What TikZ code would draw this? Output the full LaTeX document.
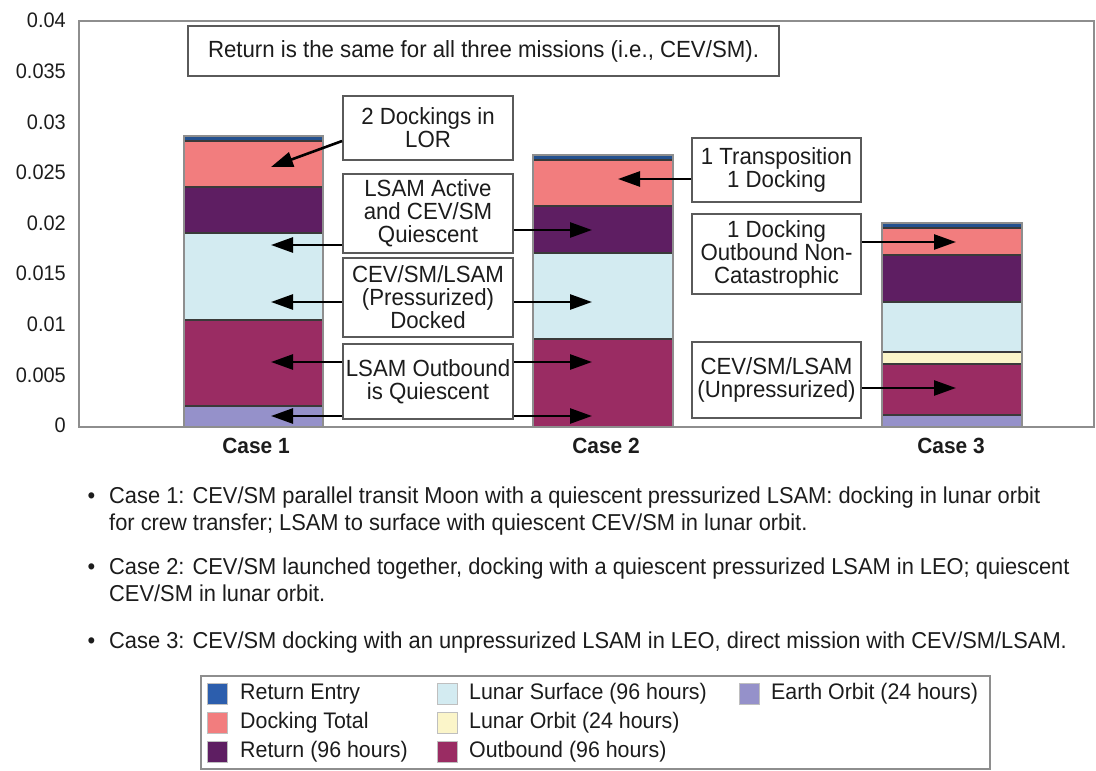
\documentclass[tikz,border=0pt]{standalone}
\usepackage{fontspec}
\setmainfont{Liberation Sans}[FakeStretch=0.95]
\usetikzlibrary{arrows.meta,calc}

% palette of the stacked segments
\definecolor{cEntry}{HTML}{24518F}
\definecolor{cEntryKey}{HTML}{2C5EAD}
\definecolor{cDock}{HTML}{F27D7E}
\definecolor{cReturn}{HTML}{5E1E62}
\definecolor{cSurface}{HTML}{D3EBF1}
\definecolor{cLOrbit}{HTML}{FBF5C9}
\definecolor{cOutbound}{HTML}{9A2C63}
\definecolor{cEOrbit}{HTML}{9591CA}
\definecolor{frameGray}{HTML}{8E8E8E}
\definecolor{boxGray}{HTML}{5A5A5A}
\definecolor{segLine}{HTML}{3A3A3A}
\definecolor{ink}{HTML}{1C1C1C}

\newcommand\boxfont{\fontsize{23.4}{23}\selectfont}
\newcommand\bodyfont{\fontsize{23}{27}\selectfont}
\newcommand\tickfont{\fontsize{21}{21}\selectfont}
\newcommand\keyfont{\fontsize{22.5}{22}\selectfont}
\newcommand\casefont{\fontsize{22}{22}\selectfont\bfseries}

% one stacked segment: x-left, x-right, y-bottom, y-top, colour
\newcommand\stackseg[5]{\filldraw[fill=#5,draw=segLine,line width=1.2pt] (#1,#3) rectangle (#2,#4);}

\tikzset{
  note/.style={draw=boxGray,line width=1.8pt,fill=white,inner sep=0pt,
    align=center,font=\boxfont,text=ink},
  ptr/.style={draw=black,line width=2.6pt,-{Triangle[length=22pt,width=15pt]}},
  tick/.style={anchor=east,inner sep=0pt,font=\tickfont,text=ink},
  casename/.style={inner sep=0pt,font=\casefont,text=ink},
  bullet/.style={anchor=base west,inner sep=0pt,align=left,font=\bodyfont,text=ink},
  swatch/.style={draw=black!25,line width=0.6pt,minimum width=20pt,minimum height=21pt,inner sep=0pt},
  keytext/.style={anchor=west,inner sep=0pt,font=\keyfont,text=ink},
}

\begin{document}
\begin{tikzpicture}[x=1pt,y=-1pt]
\useasboundingbox (0,0) rectangle (1096,771);

% plot frame
\draw[frameGray,line width=2pt] (79,20.5) rectangle (1094,427);

% value axis labels
\foreach \lab [count=\i from 0] in {0.04,0.035,0.03,0.025,0.02,0.015,0.01,0.005,0}
  \node[tick] (tk\i) at (66,{20.7+50.6*\i}) {\lab};

% Case 1 stack
\stackseg{184}{323}{427}{406}{cEOrbit}
\stackseg{184}{323}{406}{320}{cOutbound}
\stackseg{184}{323}{320}{233}{cSurface}
\stackseg{184}{323}{233}{187}{cReturn}
\stackseg{184}{323}{187}{141}{cDock}
\stackseg{184}{323}{141}{136}{cEntry}
\draw[frameGray,line width=1.4pt] (184,427) rectangle (323,136);

% Case 2 stack
\stackseg{533}{673}{427}{339}{cOutbound}
\stackseg{533}{673}{339}{253}{cSurface}
\stackseg{533}{673}{253}{206}{cReturn}
\stackseg{533}{673}{206}{160}{cDock}
\stackseg{533}{673}{160}{155}{cEntry}
\draw[frameGray,line width=1.4pt] (533,427) rectangle (673,155);

% Case 3 stack
\stackseg{882}{1022}{427}{415}{cEOrbit}
\stackseg{882}{1022}{415}{364}{cOutbound}
\stackseg{882}{1022}{364}{352}{cLOrbit}
\stackseg{882}{1022}{352}{302}{cSurface}
\stackseg{882}{1022}{302}{255}{cReturn}
\stackseg{882}{1022}{255}{228}{cDock}
\stackseg{882}{1022}{228}{223}{cEntry}
\draw[frameGray,line width=1.4pt] (882,427) rectangle (1022,223);

% category names
\node[casename] (case1) at (256,446) {Case 1};
\node[casename] (case2) at (606,446) {Case 2};
\node[casename] (case3) at (951,446) {Case 3};

% call-out boxes
\node[note,minimum width=591pt,minimum height=50pt] (same) at (483.5,51)
  {Return is the same for all three missions (i.e., CEV/SM).};
\node[note,minimum width=170pt,minimum height=64pt] (dock2) at (428,128)
  {2 Dockings in\\LOR};
\node[note,minimum width=170pt,minimum height=79pt] (active) at (428,213.5)
  {LSAM Active\\and CEV/SM\\Quiescent};
\node[note,minimum width=170pt,minimum height=79pt] (press) at (428,297.5)
  {CEV/SM/LSAM\\(Pressurized)\\Docked};
\node[note,minimum width=170pt,minimum height=75pt] (outb) at (428,381.5)
  {LSAM Outbound\\is Quiescent};
\node[note,minimum width=169pt,minimum height=64pt] (transp) at (776.5,170)
  {1 Transposition\\1 Docking};
\node[note,minimum width=169pt,minimum height=80pt] (noncat) at (776.5,254)
  {1 Docking\\Outbound Non-\\Catastrophic};
\node[note,minimum width=169pt,minimum height=76pt] (unpress) at (776.5,380)
  {CEV/SM/LSAM\\(Unpressurized)};

% arrow tips inside the stacks
\coordinate (p1dock) at (271,167);
\coordinate (p1surf) at (271,245);
\coordinate (p1press) at (271,302);
\coordinate (p1out) at (271,362);
\coordinate (p1earth) at (271,416);
\coordinate (p2ret) at (592,230);
\coordinate (p2press) at (592,302);
\coordinate (p2out) at (592,362);
\coordinate (p2low) at (592,416);
\coordinate (p2dock) at (618,179);
\coordinate (p3dock) at (956,242);
\coordinate (p3out) at (956,388);

% pointers
\draw[ptr] ([yshift=-13pt]dock2.west) -- (p1dock);
\draw[ptr] (active.west |- p1surf) -- (p1surf);
\draw[ptr] (active.east |- p2ret) -- (p2ret);
\draw[ptr] (press.west |- p1press) -- (p1press);
\draw[ptr] (press.east |- p2press) -- (p2press);
\draw[ptr] (outb.west |- p1out) -- (p1out);
\draw[ptr] (outb.east |- p2out) -- (p2out);
\draw[ptr] (outb.west |- p1earth) -- (p1earth);
\draw[ptr] (outb.east |- p2low) -- (p2low);
\draw[ptr] (transp.west |- p2dock) -- (p2dock);
\draw[ptr] (noncat.east |- p3dock) -- (p3dock);
\draw[ptr] (unpress.east |- p3out) -- (p3out);

% case descriptions (each node sits on the baseline of its last line)
\node[bullet] (d1) at (109,530.5)
  {\llap{\textbullet\hspace{14pt}}Case 1: CEV/SM parallel transit Moon with a quiescent pressurized LSAM: docking in lunar orbit\\
   for crew transfer; LSAM to surface with quiescent CEV/SM in lunar orbit.};
\node[bullet] (d2) at (109,601.5)
  {\llap{\textbullet\hspace{14pt}}Case 2: CEV/SM launched together, docking with a quiescent pressurized LSAM in LEO; quiescent\\
   CEV/SM in lunar orbit.};
\node[bullet] (d3) at (109,648.5)
  {\llap{\textbullet\hspace{14pt}}Case 3: CEV/SM docking with an unpressurized LSAM in LEO, direct mission with CEV/SM/LSAM.};

% key
\draw[frameGray,line width=1.6pt] (201,676) rectangle (990,769);
\node[swatch,fill=cEntryKey] (k1) at (217,694) {};
\node[keytext] (k1t) at (240,694) {Return Entry};
\node[swatch,fill=cDock] (k2) at (217,723) {};
\node[keytext] (k2t) at (240,723) {Docking Total};
\node[swatch,fill=cReturn] (k3) at (217,752) {};
\node[keytext] (k3t) at (240,752) {Return (96 hours)};
\node[swatch,fill=cSurface] (k4) at (447,694) {};
\node[keytext] (k4t) at (469,694) {Lunar Surface (96 hours)};
\node[swatch,fill=cLOrbit] (k5) at (447,723) {};
\node[keytext] (k5t) at (469,723) {Lunar Orbit (24 hours)};
\node[swatch,fill=cOutbound] (k6) at (447,752) {};
\node[keytext] (k6t) at (469,752) {Outbound (96 hours)};
\node[swatch,fill=cEOrbit] (k7) at (749,694) {};
\node[keytext] (k7t) at (771,694) {Earth Orbit (24 hours)};
\end{tikzpicture}
\end{document}
